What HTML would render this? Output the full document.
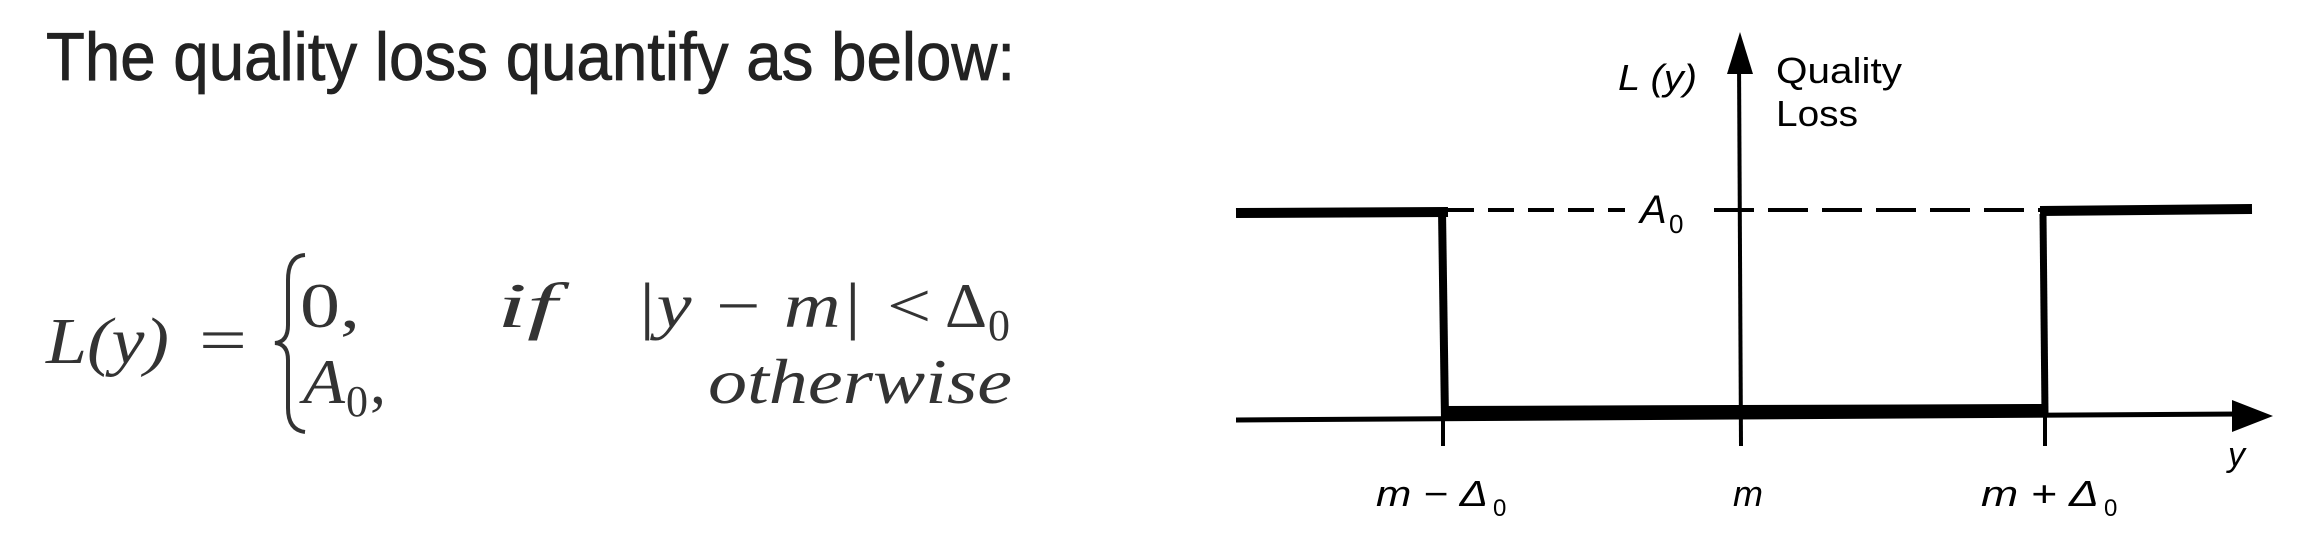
<!DOCTYPE html>
<html><head><meta charset="utf-8"><style>
html,body{margin:0;padding:0;background:#fff;}
svg{display:block;}
</style></head><body>
<svg width="2324" height="552" viewBox="0 0 2324 552" xmlns="http://www.w3.org/2000/svg">
<rect width="2324" height="552" fill="#fff"/>
<text x="46" y="80" font-family="Liberation Sans, sans-serif" font-size="68" fill="#222" stroke="#222" stroke-width="0.8" textLength="969" lengthAdjust="spacingAndGlyphs">The quality loss quantify as below:</text>
<g font-family="Liberation Serif, serif" fill="#333" font-style="italic">
<text x="46" y="363" font-size="66" textLength="123" lengthAdjust="spacingAndGlyphs">L(y)</text>
<text x="199" y="361" font-size="62" font-style="normal" textLength="48" lengthAdjust="spacingAndGlyphs">=</text>
<text x="300" y="327" font-size="64" font-style="normal" textLength="60" lengthAdjust="spacingAndGlyphs">0,</text>
<text x="497" y="327" font-size="64" textLength="60" lengthAdjust="spacingAndGlyphs">if</text>
<text x="635" y="327" font-size="64" textLength="300" lengthAdjust="spacingAndGlyphs">|y − m| &lt;</text>
<text x="945" y="327" font-size="64" font-style="normal" textLength="42" lengthAdjust="spacingAndGlyphs">Δ</text>
<text x="988" y="340" font-size="44" font-style="normal">0</text>
<text x="303" y="403" font-size="64" textLength="42" lengthAdjust="spacingAndGlyphs">A</text>
<text x="346" y="416" font-size="44" font-style="normal">0</text>
<text x="370" y="403" font-size="64" font-style="normal">,</text>
<text x="708" y="403" font-size="64" textLength="304" lengthAdjust="spacingAndGlyphs">otherwise</text>
</g>
<path d="M305 255 Q288 256 288 280 L288 325 Q288 342 275 343 Q288 344 288 360 L288 408 Q288 430 305 432" fill="none" stroke="#333" stroke-width="4"/>

<g stroke="#000" fill="none">
<line x1="1739" y1="60" x2="1741" y2="446" stroke-width="4"/>
<line x1="1236" y1="420" x2="2240" y2="414" stroke-width="5"/>
<line x1="1442" y1="412" x2="2043" y2="410" stroke-width="12"/>
<line x1="1236" y1="213" x2="1448" y2="212" stroke-width="10"/>
<line x1="1442" y1="210" x2="1445" y2="420" stroke-width="8"/>
<line x1="2043" y1="214" x2="2045" y2="414" stroke-width="7"/>
<line x1="2040" y1="211" x2="2252" y2="209" stroke-width="10"/>
<line x1="1443" y1="418" x2="1443" y2="446" stroke-width="4"/>
<line x1="2045" y1="414" x2="2045" y2="446" stroke-width="4"/>
<line x1="1448" y1="210" x2="1625" y2="210" stroke-width="4" stroke-dasharray="26,14"/>
<line x1="1714" y1="210" x2="2040" y2="210" stroke-width="4" stroke-dasharray="40,14"/>
</g>
<polygon points="1740,32 1727,74 1753,74" fill="#000"/>
<polygon points="2273,416 2232,400 2232,432" fill="#000"/>
<g font-family="Liberation Sans, sans-serif" font-style="italic" fill="#000">
<text x="1640" y="223" font-size="40">A</text>
<text x="1669" y="233" font-size="26" font-style="normal">0</text>
<text x="1618" y="90" font-size="36" textLength="79" lengthAdjust="spacingAndGlyphs">L (y)</text>
<text x="2228" y="466" font-size="34">y</text>
<text x="1376" y="506" font-size="36" textLength="112" lengthAdjust="spacingAndGlyphs">m − Δ</text>
<text x="1493" y="516" font-size="24" font-style="normal">0</text>
<text x="1733" y="506" font-size="36">m</text>
<text x="1981" y="506" font-size="36" textLength="118" lengthAdjust="spacingAndGlyphs">m + Δ</text>
<text x="2104" y="516" font-size="24" font-style="normal">0</text>
</g>
<g font-family="Liberation Sans, sans-serif" fill="#000">
<text x="1776" y="83" font-size="36" textLength="126" lengthAdjust="spacingAndGlyphs">Quality</text>
<text x="1776" y="126" font-size="36" textLength="82" lengthAdjust="spacingAndGlyphs">Loss</text>
</g>
</svg>
</body></html>
